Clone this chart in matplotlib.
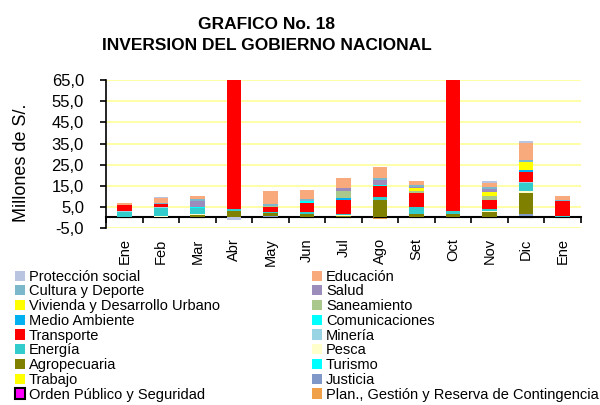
import numpy as np
import matplotlib
matplotlib.use("Agg")
from matplotlib import pyplot as plt
from matplotlib.patches import Patch

plt.rcParams['font.family'] = ['Liberation Sans', 'DejaVu Sans']

meses = ['Ene', 'Feb', 'Mar', 'Abr', 'May', 'Jun', 'Jul', 'Ago', 'Set', 'Oct', 'Nov', 'Dic', 'Ene']

## series, bottom of stack first ##
plan        = [0, 0, 0, 0, 0, 0, 0, -0.8, 0, 0, 0, 0, 0]
orden       = [0, 0, 0, 0, 0, 0, 0, 0, 0, 0, 0, 0.9, 0]
justicia    = [0, 0, 0, 0, 0.9, 0, 0, 0, 0, 0, 0, 0.6, 0]
trabajo     = [0, 0, 0, 0, 0, 0, 0, 0, 0, 0, 0, 0, 0]
turismo     = [0, 0, 0, 0, 0, 0, 0, 0, 0, 0, 0, 0, 0]
agro        = [0, 0, 1.0, 3.2, 1.1, 1.6, 0.6, 8.4, 1.6, 1.6, 2.4, 10.0, 0]
pesca       = [0, 0.5, 0.5, 0, 0, 0, 0.6, 0, 0, 0, 0.8, 0.8, 0]
energia     = [2.7, 4.1, 3.2, 1.0, 0.8, 1.0, 0.6, 1.1, 3.2, 1.6, 0.8, 3.9, 0.5]
mineria     = [0.2, 0.4, 0, 0, 0, 0, 0, 0, 0, 0, 0, 0.5, 0]
transporte  = [2.8, 1.6, 0, 75, 2.1, 4.4, 6.5, 5.2, 6.6, 75, 4.4, 4.7, 7.1]
comunic     = [0, 0, 0.4, 0, 0, 0.6, 0, 0.8, 0, 0, 0, 0.3, 0]
medio       = [0, 0, 0, 0, 0, 0, 0.8, 0, 0, 0, 0, 0.8, 0]
saneamiento = [0, 0, 0, 0, 0.5, 0, 3.2, 0, 1.0, 0, 1.6, 0, 0]
vivienda    = [0, 0, 0, 0, 0, 0, 0, 0, 1.6, 0, 1.9, 3.9, 0]
salud       = [0, 0, 2.7, 0, 0, 0, 1.6, 2.2, 0.6, 0, 1.6, 0, 0]
cultura     = [0, 0.4, 1.0, 0, 1.0, 1.0, 0, 1.0, 1.0, 0, 0.8, 0.8, 0.8]
educacion   = [1.0, 2.4, 1.3, 0, 6.0, 4.6, 4.7, 5.4, 1.6, 0, 2.1, 7.9, 1.6]
proteccion  = [0, 0.3, 0, -1.0, 0, 0, 0.3, 0, 0, 0, 0.8, 0.9, 0]

nombres = ['Plan., Gestión y Reserva de Contingencia', 'Orden Público y Seguridad', 'Justicia',
           'Trabajo', 'Turismo', 'Agropecuaria', 'Pesca', 'Energía', 'Minería', 'Transporte',
           'Comunicaciones', 'Medio Ambiente', 'Saneamiento', 'Vivienda y Desarrollo Urbano',
           'Salud', 'Cultura y Deporte', 'Educación', 'Protección social']
series = [plan, orden, justicia, trabajo, turismo, agro, pesca, energia, mineria, transporte,
          comunic, medio, saneamiento, vivienda, salud, cultura, educacion, proteccion]
colores = ['#f0a048', '#ff00ff', '#7f98c8', '#ffff00', '#00ffff', '#808000', '#ffffcc', '#33cccc',
           '#98d4e4', '#ff0000', '#00ffff', '#00b0f0', '#aac88c', '#ffff00', '#9c8cbc', '#7cb8cc',
           '#f8aa7c', '#b8c4e0']

yticks = [-5, 5, 15, 25, 35, 45, 55, 65]

fig = plt.figure(figsize=(6, 4.05), dpi=100)
ax = fig.add_axes([0.177, 0.437, 0.791, 0.365])

x = np.arange(len(meses))
pos = np.zeros(len(meses))
neg = np.zeros(len(meses))
for nom, vals, col in zip(nombres, series, colores):
    v = np.array(vals, dtype=float)
    base = np.where(v >= 0, pos, neg)
    ec = 'black' if nom.startswith('Orden') else 'none'
    ax.bar(x, v, 0.4, bottom=base, color=col, edgecolor=ec, linewidth=0.8, zorder=3)
    pos = pos + np.where(v > 0, v, 0)
    neg = neg + np.where(v < 0, v, 0)

ax.set_xlim(-0.5, len(meses) - 0.5)
ax.set_ylim(-5, 65)
ax.set_yticks(yticks)
ax.set_yticklabels([f'{t:.1f}'.replace('.', ',') for t in yticks], fontsize=12)
for t in yticks:
    ax.axhline(t, color='#ffffa0', lw=1.3, zorder=1)

ax.spines['top'].set_visible(False)
ax.spines['right'].set_visible(False)
ax.spines['bottom'].set_position(('data', 0))
ax.spines['bottom'].set_linewidth(1.5)
ax.spines['left'].set_linewidth(1.2)
ax.tick_params(axis='y', length=4, width=1.2, pad=12)

ax.set_xticks(x)
ax.set_xticklabels(meses, rotation=90, fontsize=10.5)
ax.tick_params(axis='x', which='major', length=0, pad=15)
ax.set_xticks(np.arange(len(meses) + 1) - 0.5, minor=True)
ax.tick_params(axis='x', which='minor', length=4, width=1.2, direction='out')

ax.set_ylabel('Millones de S/.', fontsize=13)
ax.yaxis.set_label_coords(-0.16, 0.44)

fig.text(0.445, 0.94, 'GRAFICO No. 18', ha='center', va='center', fontsize=12.5, fontweight='bold')
fig.text(0.445, 0.888, 'INVERSION DEL GOBIERNO NACIONAL', ha='center', va='center', fontsize=12.5, fontweight='bold')

## legend: two columns, reading row-wise from top of stack ##
orden_leg = list(range(len(nombres)))[::-1]
def hand(i):
    if nombres[i].startswith('Orden'):
        return Patch(facecolor=colores[i], edgecolor='black', linewidth=1.5)
    return Patch(facecolor=colores[i], edgecolor='none')
izq = orden_leg[0::2]
der = orden_leg[1::2]
for cols, xpos in ((izq, 0.025), (der, 0.52)):
    fig.legend([hand(i) for i in cols], [nombres[i] for i in cols], loc='upper left',
               bbox_to_anchor=(xpos, 0.334), frameon=False, fontsize=10.5,
               handlelength=0.7, handleheight=0.7, handletextpad=0.25,
               labelspacing=0.05, borderpad=0, borderaxespad=0)

fig.savefig('out.png', dpi=100)
